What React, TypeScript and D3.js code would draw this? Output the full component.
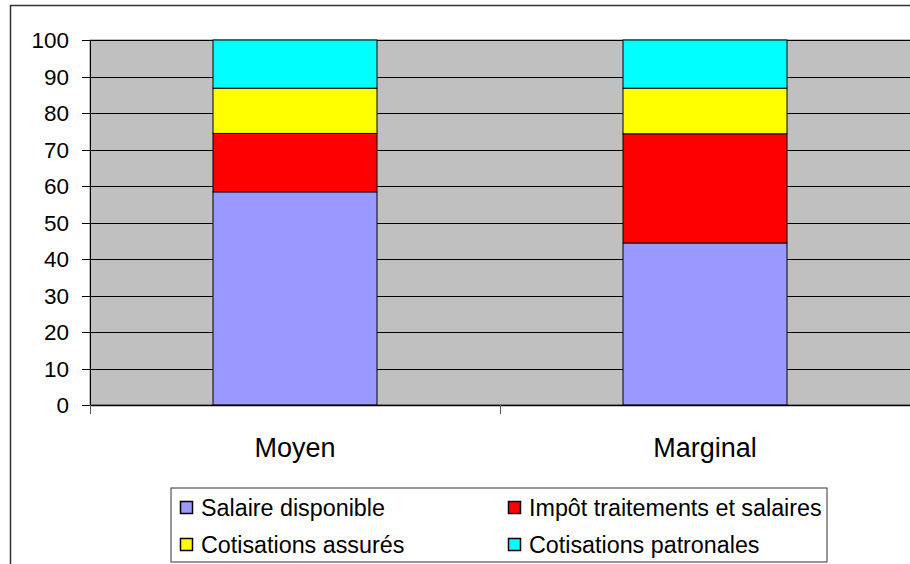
import * as d3 from "d3";

const categories = ["Moyen", "Marginal"];
const seriesNames = [
  "Salaire disponible",
  "Impôt traitements et salaires",
  "Cotisations assurés",
  "Cotisations patronales",
];
const salaireDisponible = [58.4, 44.4];
const impotTraitements = [16.0, 29.9];
const cotisationsAssures = [12.4, 12.5];
const cotisationsPatronales = [13.2, 13.2];
const seriesColors = ["#9999FF", "#FF0000", "#FFFF00", "#00FFFF"];
const yTicks = [0, 10, 20, 30, 40, 50, 60, 70, 80, 90, 100];

const W = 910;
const H = 564;
const plot = { left: 90, right: 910, top: 40, bottom: 405 };
const font = "Arial, 'Liberation Sans', sans-serif";

export default function App() {
  const rows = categories.map((c, i) => ({
    cat: c,
    s0: salaireDisponible[i],
    s1: impotTraitements[i],
    s2: cotisationsAssures[i],
    s3: cotisationsPatronales[i],
  }));
  const stacked = d3.stack<any>().keys(["s0", "s1", "s2", "s3"])(rows);

  const x = d3
    .scaleBand()
    .domain(categories)
    .range([plot.left, plot.right])
    .padding(0);
  const barW = x.bandwidth() * 0.4;
  const y = d3.scaleLinear().domain([0, 100]).range([plot.bottom, plot.top]);

  // category separators on x axis
  const xTickPos = [plot.left, ...categories.map((c) => (x(c) as number) + x.bandwidth())];

  const legendItems = [
    { name: seriesNames[0], color: seriesColors[0], col: 0, row: 0 },
    { name: seriesNames[1], color: seriesColors[1], col: 1, row: 0 },
    { name: seriesNames[2], color: seriesColors[2], col: 0, row: 1 },
    { name: seriesNames[3], color: seriesColors[3], col: 1, row: 1 },
  ];
  const legendColX = [180, 508];
  const legendRowY = [508, 545];

  return (
    <div style={{ position: "fixed", left: 0, top: 0 }}>
      <svg width={W} height={H} style={{ display: "block", background: "#fff" }}>
        {/* chart border */}
        <rect x={10.5} y={5.5} width={W + 20} height={H + 20} fill="#fff" stroke="#333" strokeWidth={1.5} />

        {/* plot area */}
        <rect
          x={plot.left}
          y={plot.top}
          width={plot.right - plot.left + 10}
          height={plot.bottom - plot.top}
          fill="#C0C0C0"
          stroke="#808080"
          strokeWidth={1}
        />

        {/* gridlines */}
        {yTicks.slice(1).map((t) => (
          <line
            key={"g" + t}
            x1={plot.left}
            x2={plot.right}
            y1={Math.round(y(t)) + 0.5}
            y2={Math.round(y(t)) + 0.5}
            stroke="#000"
            strokeWidth={1}
          />
        ))}

        {/* bars */}
        {stacked.map((layer, si) =>
          layer.map((d, ci) => (
            <rect
              key={si + "-" + ci}
              x={(x(categories[ci]) as number) + (x.bandwidth() - barW) / 2}
              y={y(d[1])}
              width={barW}
              height={y(d[0]) - y(d[1])}
              fill={seriesColors[si]}
              stroke="#000"
              strokeWidth={1}
            />
          ))
        )}

        {/* y axis */}
        <line x1={plot.left + 0.5} x2={plot.left + 0.5} y1={plot.top} y2={plot.bottom + 9} stroke="#000" />
        {yTicks.map((t) => (
          <g key={"t" + t}>
            <line x1={plot.left - 8} x2={plot.left} y1={Math.round(y(t)) + 0.5} y2={Math.round(y(t)) + 0.5} stroke="#000" />
            <text
              x={69}
              y={y(t) + 8}
              textAnchor="end"
              fontFamily={font}
              fontSize={22.5}
              fill="#000"
            >
              {t}
            </text>
          </g>
        ))}

        {/* x axis */}
        <line x1={plot.left} x2={plot.right} y1={plot.bottom + 0.5} y2={plot.bottom + 0.5} stroke="#000" strokeWidth={1.5} />
        {xTickPos.map((p, i) => (
          <line key={"xt" + i} x1={p + 0.5} x2={p + 0.5} y1={plot.bottom} y2={plot.bottom + 9} stroke="#555" />
        ))}
        {categories.map((c) => (
          <text
            key={c}
            x={(x(c) as number) + x.bandwidth() / 2}
            y={457}
            textAnchor="middle"
            fontFamily={font}
            fontSize={27}
            fill="#000"
          >
            {c}
          </text>
        ))}

        {/* legend */}
        <rect x={171} y={488} width={656} height={74} fill="#fff" stroke="#333" strokeWidth={1} />
        {legendItems.map((it) => (
          <g key={it.name}>
            <rect
              x={legendColX[it.col] + 0.5}
              y={legendRowY[it.row] - 6.5}
              width={12}
              height={12}
              fill={it.color}
              stroke="#000"
              strokeWidth={1.5}
            />
            <text
              x={legendColX[it.col] + 21}
              y={legendRowY[it.row] + 8}
              fontFamily={font}
              fontSize={23.3}
              fill="#000"
            >
              {it.name}
            </text>
          </g>
        ))}
      </svg>
    </div>
  );
}
